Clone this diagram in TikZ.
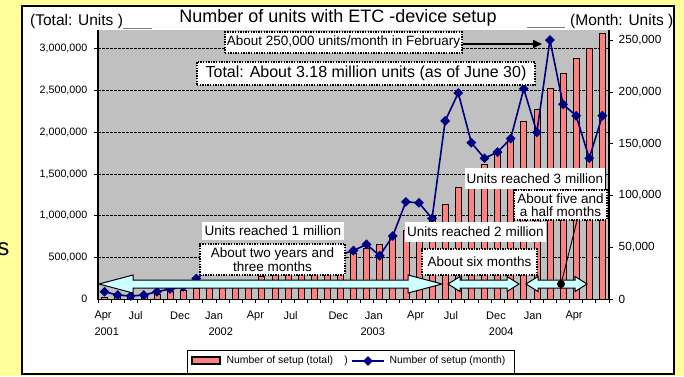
\documentclass[tikz,border=0pt]{standalone}
\usepackage{fontspec}
\setmainfont{Liberation Sans}
\usetikzlibrary{shapes.geometric,arrows.meta}
\definecolor{slideyellow}{HTML}{FFFF99}
\definecolor{plotgray}{HTML}{C0C0C0}
\definecolor{barpink}{HTML}{FF8080}
\definecolor{linenavy}{HTML}{000080}
\definecolor{spancyan}{HTML}{CCFFFF}
\tikzset{
  setupbar/.style={draw=black,line width=0.7pt,fill=barpink},
  gridrule/.style={dash pattern=on 2.5pt off 1.5pt,line width=0.8pt},
  monthline/.style={draw=linenavy,line width=1.6pt},
  markdia/.style={diamond,fill=linenavy,inner sep=0pt,minimum width=10pt,minimum height=10pt},
  spanfill/.style={draw=black,line width=1pt,fill=spancyan},
  notebox/.style={draw,fill=white,dash pattern=on 1.4pt off 1.2pt,line width=1.3pt,
    inner sep=0pt,align=center,font=\fontsize{13.5}{13}\selectfont},
  plainbox/.style={fill=white,inner sep=0pt,font=\fontsize{13.5}{13}\selectfont},
  llab/.style={inner sep=0pt,anchor=east,font=\fontsize{10.7}{11}\selectfont},
  rlab/.style={inner sep=0pt,anchor=west,font=\fontsize{11.8}{12}\selectfont},
  xlab/.style={inner sep=0pt,anchor=west,font=\fontsize{11}{11}\selectfont},
  legtext/.style={inner sep=0pt,font=\fontsize{10.4}{11}\selectfont}
}
% span arrow: x1, x2, y, head length, head half height
\newcommand{\spanarrow}[5]{%
  \draw[spanfill] (#1,#3) -- ({#1+#4},{#3-#5}) -- ({#1+#4},{#3-4}) -- ({#2-#4},{#3-4})
    -- ({#2-#4},{#3-#5}) -- (#2,#3) -- ({#2-#4},{#3+#5}) -- ({#2-#4},{#3+4})
    -- ({#1+#4},{#3+4}) -- ({#1+#4},{#3+#5}) -- cycle;}
\begin{document}
\begin{tikzpicture}[x=1pt,y=-1pt]
  \useasboundingbox (0,0) rectangle (684,376);
  \fill[slideyellow] (0,0) rectangle (684,376);
  \node[anchor=base east,inner sep=0pt,font=\fontsize{24}{24}\selectfont] (cuts) at (9.5,255) {s};
  \draw[line width=2pt,fill=white] (22,6) rectangle (674,374);

  % plot area
  \fill[plotgray] (98,30) rectangle (609,299.3);
  \foreach \g in {1,...,6}
    \draw[gridrule] (94,{299.3-41.75*\g}) -- (609,{299.3-41.75*\g});
  \foreach \v [count=\i from 0] in {20,30,40,50,60,90,110,130,150,175,200,230,270,300,330,360,395,430,480,
      550,610,660,750,820,910,990,1140,1340,1480,1620,1770,1930,2130,2270,2530,2710,2890,3010,3180}
    \draw[setupbar] ({101.55+13.1*\i},299.3) rectangle ({107.55+13.1*\i},{299.3-0.0835*\v});
  \draw[line width=1.6pt] (98,30) -- (98,299.3) -- (609,299.3) -- (609,30);
  \foreach \k in {0,...,39}
    \draw[line width=0.8pt] ({98+13.1*\k},299.3) -- ++(0,4);
  \foreach \r in {0,...,5}
    \draw[line width=0.8pt] (609,{299.3-51.85*\r}) -- ++(4,0);

  % monthly line
  \foreach \v [count=\i from 0] in {7.3,4.1,3.2,4.1,7.3,10,12,20,29,30,31,33,32,34,35,37,36,39,43,
      47,53,42,61,94,93,78,172,199,151,136,142,155,203,161,250,188,177,136,177}
    \coordinate (p\i) at ({104.55+13.1*\i},{299.3-1.037*\v});
  \draw[monthline] (p0) \foreach \i in {1,...,38}{ -- (p\i)};
  \foreach \i in {0,...,38}
    \node[markdia] (d\i) at (p\i) {};

  % spans
  \spanarrow{99}{442}{284}{34}{9}
  \spanarrow{448}{519}{284}{12}{7.5}
  \spanarrow{526}{587}{284}{12}{7.5}

  % notes
  \node[notebox,minimum width=237pt,minimum height=21pt] (febnote) at (343.5,42.5) {About 250,000 units/month in February};
  \coordinate (febpeak) at (542,44);
  \draw[line width=1.6pt,-{Triangle[length=9pt,width=8pt]}] (febnote.east |- febpeak) -- (febpeak);
  \node[notebox,line width=1.8pt,minimum width=338pt,minimum height=23pt,font=\fontsize{16}{16}\selectfont] (totalnote) at (366,73.5) {Total: About 3.18 million units (as of June 30)};
  \node[plainbox,minimum width=140pt,minimum height=21pt] (reach3) at (535,178.5) {Units reached 3 million};
  \node[notebox,minimum width=93pt,minimum height=30pt] (halfnote) at (560.5,205) {About five and\\a half months};
  \node[plainbox,minimum width=141pt,minimum height=20pt] (reach2) at (475.5,232) {Units reached 2 million};
  \node[notebox,minimum width=115pt,minimum height=26pt] (sixnote) at (479.5,262) {About six months};
  \node[plainbox,minimum width=142pt,minimum height=18pt] (reach1) at (273,231) {Units reached 1 million};
  \node[notebox,minimum width=145pt,minimum height=31pt,font=\fontsize{13.5}{12}\selectfont] (twonote) at (272.5,259.5) {About two years and\\three months};
  \coordinate (dotmark) at (561,284);
  \draw[line width=0.9pt] (dotmark) -- ([xshift=16.5pt]halfnote.south);
  \fill (dotmark) circle (4);

  % titles
  \node[inner sep=0pt,font=\fontsize{18}{18}\selectfont] (title) at (338,18) {Number of units with ETC -device setup};
  \node[inner sep=0pt,anchor=west,font=\fontsize{15.5}{16}\selectfont] (lunit) at (30,21.7) {(Total: Units )};
  \node[inner sep=0pt,anchor=east,font=\fontsize{15.5}{16}\selectfont] (runit) at (673.5,21.7) {(Month: Units )};
  \draw[gray,line width=1.2pt] (123,28.5) -- (152,28.5);
  \draw[gray,line width=1.2pt] (527,27.5) -- (565,27.5);

  % axis labels
  \foreach \g/\t in {0/0,1/{500,000},2/{1,000,000},3/{1,500,000},4/{2,000,000},5/{2,500,000},6/{3,000,000}}
    \node[llab] (yl\g) at (87.5,{299.3-41.75*\g}) {\t};
  \foreach \r/\t in {0/0,1/{50,000},2/{100,000},3/{150,000},4/{200,000},5/{250,000}}
    \node[rlab] (yr\r) at (618.5,{299.3-51.85*\r}) {\t};
  \foreach \x/\t [count=\n] in {94.3/Apr,128.3/Jul,170/Dec,205/Jan,246.7/Apr,283.3/Jul,328.3/Dec,
      364.7/Jan,407/Apr,443.7/Jul,486/Dec,523.7/Jan,565.3/Apr}
    \node[xlab] (mon\n) at (\x,316) {\t};
  \foreach \x/\t in {94.3/2001,208.3/2002,360.3/2003,488.7/2004}
    \node[xlab] (yr\t) at (\x,331.7) {\t};

  % legend
  \draw[line width=1pt] (187,350) rectangle (514,373);
  \draw[setupbar,line width=1.2pt] (192,357) rectangle (220,364);
  \node[legtext,anchor=west] (legtotal) at (226.5,361) {Number of setup (total)};
  \node[legtext] (legparen) at (346,361) {)};
  \coordinate (legl) at (352,361);
  \coordinate (legr) at (384,361);
  \draw[monthline] (legl) -- (legr);
  \node[markdia] (legdia) at (368,361) {};
  \node[legtext,anchor=west] (legmonth) at (389.5,361) {Number of setup (month)};
\end{tikzpicture}
\end{document}
